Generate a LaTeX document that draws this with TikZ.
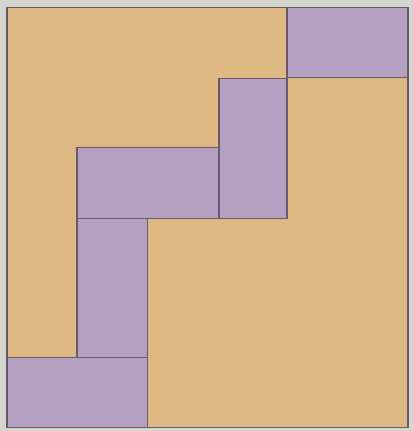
\documentclass[tikz,border=0pt]{standalone}
\usetikzlibrary{calc}
\definecolor{sand}{RGB}{221,184,131}
\definecolor{lila}{RGB}{180,160,192}
\definecolor{rand}{RGB}{105,88,105}
\definecolor{papier}{RGB}{214,214,208}
\begin{document}
\begin{tikzpicture}[x=1cm,y=-1cm,line width=0.6pt]
    % paper
    \path[fill=papier](0,0)rectangle(5.9,6.157);
    % square
    \path[draw=rand,fill=sand](0.1,0.11)rectangle(5.83,6.11);
    % purple tiles
    \foreach \a/\b/\c/\d in {4.1/0.11/5.83/1.11, 3.13/1.12/4.1/3.12, 1.1/2.11/3.13/3.12, 1.1/3.12/2.11/5.11, 0.1/5.11/2.11/6.11}
    {
        \path[draw=rand,fill=lila](\a,\b)rectangle(\c,\d);
    }
\end{tikzpicture}
\end{document}
